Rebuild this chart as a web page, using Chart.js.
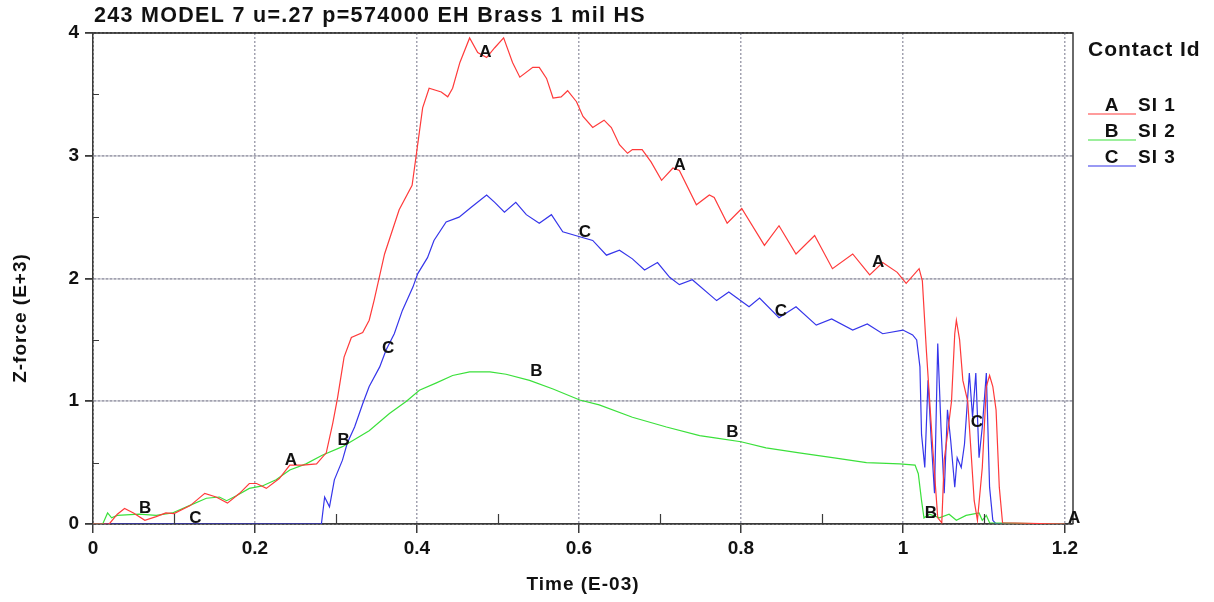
<!DOCTYPE html>
<html>
<head>
<meta charset="utf-8">
<script src="https://cdn.jsdelivr.net/npm/chart.js@4/dist/chart.umd.min.js"></script>
<style>
  body { margin: 0; background: #fff; }
  #wrap { width: 1214px; height: 602px; }
</style>
</head>
<body>
<div id="wrap"><canvas id="forceChart" width="1214" height="602"></canvas></div>
<script>
// --- Data (time in E-03, force in E+3) ---
const chartTitle = '243 MODEL 7 u=.27 p=574000 EH Brass 1 mil HS';
const xAxisTitle = 'Time (E-03)';
const yAxisTitle = 'Z-force (E+3)';
const legendTitle = 'Contact Id';

const xTicks = [0, 0.2, 0.4, 0.6, 0.8, 1, 1.2];
const xTickLabels = ['0', '0.2', '0.4', '0.6', '0.8', '1', '1.2'];
const yTicks = [0, 1, 2, 3, 4];
const yTickLabels = ['0', '1', '2', '3', '4'];
const xMinorTicks = [0.1, 0.3, 0.5, 0.7, 0.9, 1.1];
const yMinorTicks = [0.5, 1.5, 2.5, 3.5];

const seriesNames = ['SI 1', 'SI 2', 'SI 3'];
const seriesLetters = ['A', 'B', 'C'];

// SI 1 (A)
const timeA = [0, 0.02, 0.03, 0.039, 0.05, 0.064, 0.078, 0.09, 0.10, 0.12,
  0.138, 0.152, 0.166, 0.181, 0.193, 0.202, 0.214, 0.23, 0.243, 0.259,
  0.276, 0.288, 0.296, 0.302, 0.31, 0.319, 0.333, 0.341, 0.347, 0.36,
  0.378, 0.394, 0.399, 0.407, 0.415, 0.43, 0.438, 0.444, 0.453, 0.465,
  0.475, 0.486, 0.496, 0.507, 0.518, 0.527, 0.543, 0.551, 0.56, 0.568,
  0.578, 0.586, 0.597, 0.605, 0.617, 0.631, 0.64, 0.65, 0.66, 0.666,
  0.678, 0.689, 0.702, 0.716, 0.724, 0.745, 0.761, 0.767, 0.783, 0.801,
  0.829, 0.847, 0.868, 0.891, 0.913, 0.938, 0.959, 0.975, 0.993, 1.004,
  1.02, 1.024, 1.029, 1.037, 1.043, 1.048, 1.051, 1.055, 1.06, 1.064,
  1.066, 1.07, 1.074, 1.08, 1.084, 1.088, 1.092, 1.098, 1.103, 1.107,
  1.111, 1.115, 1.119, 1.123, 1.2];
const forceA = [0, 0, 0.08, 0.126, 0.09, 0.03, 0.06, 0.09, 0.085, 0.15,
  0.25, 0.22, 0.17, 0.25, 0.33, 0.33, 0.29, 0.37, 0.48, 0.48,
  0.49, 0.58, 0.82, 1.03, 1.36, 1.52, 1.56, 1.66, 1.82, 2.2,
  2.56, 2.76, 3.0, 3.39, 3.55, 3.52, 3.48, 3.55, 3.76, 3.96,
  3.84, 3.8, 3.88, 3.96, 3.76, 3.64, 3.72, 3.72, 3.63, 3.47,
  3.48, 3.53, 3.44, 3.32, 3.23, 3.29, 3.23, 3.09, 3.02, 3.05,
  3.05, 2.95, 2.8, 2.9, 2.88, 2.6, 2.68, 2.66, 2.45, 2.57,
  2.27, 2.43, 2.2, 2.35, 2.08, 2.2, 2.03, 2.13, 2.05, 1.96,
  2.08, 1.98, 1.41, 0.6, 0.05, 0.01, 0.52, 0.73, 1.0, 1.55,
  1.66, 1.5, 1.17, 1.0, 0.6, 0.19, 0.03, 0.46, 1.12, 1.21,
  1.12, 0.93, 0.3, 0.01, 0];

// SI 2 (B)
const timeB = [0, 0.012, 0.018, 0.023, 0.03, 0.057, 0.078, 0.098, 0.119, 0.14,
  0.156, 0.165, 0.177, 0.193, 0.209, 0.226, 0.243, 0.263, 0.283, 0.308,
  0.341, 0.366, 0.387, 0.403, 0.424, 0.444, 0.465, 0.49, 0.51, 0.539,
  0.568, 0.601, 0.625, 0.666, 0.708, 0.749, 0.77, 0.8, 0.831, 0.872,
  0.913, 0.955, 0.996, 1.015, 1.019, 1.023, 1.026, 1.033, 1.045, 1.057,
  1.066, 1.078, 1.094, 1.098, 1.103, 1.107, 1.2];
const forceB = [0, 0, 0.09, 0.05, 0.07, 0.08, 0.07, 0.09, 0.15, 0.21,
  0.22, 0.19, 0.23, 0.29, 0.31, 0.36, 0.44, 0.49, 0.56, 0.63,
  0.76, 0.9, 1.0, 1.09, 1.15, 1.21, 1.24, 1.24, 1.22, 1.17,
  1.1, 1.01, 0.97, 0.87, 0.79, 0.72, 0.70, 0.67, 0.62, 0.58,
  0.54, 0.5, 0.49, 0.48, 0.41, 0.19, 0.05, 0.08, 0.05, 0.08,
  0.03, 0.07, 0.09, 0.03, 0.07, 0.01, 0];

// SI 3 (C)
const timeC = [0, 0.282, 0.286, 0.292, 0.298, 0.308, 0.314, 0.323, 0.333, 0.341,
  0.354, 0.362, 0.372, 0.382, 0.395, 0.401, 0.413, 0.421, 0.436, 0.452,
  0.467, 0.486, 0.496, 0.508, 0.522, 0.535, 0.551, 0.566, 0.58, 0.601,
  0.617, 0.634, 0.65, 0.666, 0.681, 0.697, 0.712, 0.724, 0.74, 0.77,
  0.785, 0.81, 0.823, 0.847, 0.868, 0.893, 0.912, 0.938, 0.956, 0.975,
  1.0, 1.012, 1.017, 1.021, 1.023, 1.027, 1.031, 1.035, 1.039, 1.043,
  1.047, 1.051, 1.055, 1.059, 1.064, 1.067, 1.072, 1.076, 1.082, 1.086,
  1.09, 1.094, 1.098, 1.103, 1.107, 1.111, 1.115, 1.2];
const forceC = [0, 0, 0.22, 0.14, 0.36, 0.52, 0.66, 0.79, 0.98, 1.12,
  1.28, 1.42, 1.55, 1.74, 1.93, 2.04, 2.17, 2.31, 2.46, 2.5,
  2.58, 2.68, 2.62, 2.54, 2.62, 2.52, 2.45, 2.52, 2.38, 2.34,
  2.31, 2.19, 2.23, 2.16, 2.07, 2.13, 2.01, 1.95, 1.99, 1.82,
  1.89, 1.77, 1.84, 1.68, 1.77, 1.62, 1.67, 1.58, 1.63, 1.55,
  1.58, 1.54, 1.5, 1.28, 0.73, 0.46, 1.17, 0.68, 0.25, 1.47,
  0.79, 0.25, 0.93, 0.68, 0.3, 0.54, 0.46, 0.65, 1.23, 0.87,
  1.23, 0.54, 0.79, 1.23, 0.3, 0.03, 0, 0];

// curve id letters sitting on each line
const markTimeA = [0.245, 0.485, 0.725, 0.97, 1.212];
const markForceA = [0.52, 3.84, 2.92, 2.13, 0.05];
const markTimeB = [0.065, 0.31, 0.548, 0.79, 1.035];
const markForceB = [0.13, 0.68, 1.24, 0.75, 0.09];
const markTimeC = [0.127, 0.365, 0.608, 0.85, 1.092];
const markForceC = [0.05, 1.43, 2.38, 1.73, 0.83];

const lineColors = ['#ff3a3a', '#3be03b', '#3535ea'];
const textFont = '"Liberation Sans", Arial, sans-serif';
const axisDark = '#3a3a3a';
const gridGrey = '#a2a2b0';

const toPoints = (times, values) => times.map((t, i) => ({ x: t, y: values[i] }));

const markSets = [
    { times: markTimeA, values: markForceA },
    { times: markTimeB, values: markForceB },
    { times: markTimeC, values: markForceC }
];

// --- decorations the stock plugins don't cover ---
const decorPlugin = {
    id: 'decor',
    afterDatasetsDraw(chart) {
        const { ctx, chartArea: area, scales: { x, y } } = chart;
        ctx.save();
        ctx.letterSpacing = '1px';

        // frame top / right
        ctx.strokeStyle = axisDark;
        ctx.lineWidth = 1.5;
        ctx.beginPath();
        ctx.moveTo(area.left, area.top);
        ctx.lineTo(area.right, area.top);
        ctx.lineTo(area.right, area.bottom);
        ctx.stroke();

        // minor ticks
        ctx.lineWidth = 1.2;
        ctx.beginPath();
        xMinorTicks.forEach(v => {
            const px = Math.round(x.getPixelForValue(v)) + 0.5;
            ctx.moveTo(px, area.bottom);
            ctx.lineTo(px, area.bottom - 10);
        });
        yMinorTicks.forEach(v => {
            const py = Math.round(y.getPixelForValue(v)) + 0.5;
            ctx.moveTo(area.left, py);
            ctx.lineTo(area.left + 6, py);
        });
        ctx.stroke();

        // letters on the curves
        ctx.font = 'bold 17px ' + textFont;
        ctx.fillStyle = '#111';
        ctx.textAlign = 'center';
        ctx.textBaseline = 'middle';
        markSets.forEach((set, si) => {
            set.times.forEach((t, i) => {
                ctx.fillText(seriesLetters[si], x.getPixelForValue(t), y.getPixelForValue(set.values[i]));
            });
        });

        // title
        ctx.textAlign = 'left';
        ctx.letterSpacing = '1.3px';
        ctx.font = 'bold 21.5px ' + textFont;
        ctx.fillText(chartTitle, area.left + 1, 16);

        // axis titles
        ctx.letterSpacing = '1px';
        ctx.textAlign = 'center';
        ctx.font = 'bold 19px ' + textFont;
        ctx.fillText(xAxisTitle, (area.left + area.right) / 2, 585);
        ctx.save();
        ctx.translate(21, 318);
        ctx.rotate(-Math.PI / 2);
        ctx.fillText(yAxisTitle, 0, 0);
        ctx.restore();

        // legend
        const lx = area.right + 15;
        ctx.textAlign = 'left';
        ctx.font = 'bold 21px ' + textFont;
        ctx.fillText(legendTitle, lx, 50);
        ctx.font = 'bold 19px ' + textFont;
        seriesNames.forEach((name, i) => {
            const ly = 106 + i * 26;
            ctx.strokeStyle = lineColors[i];
            ctx.lineWidth = 1.2;
            ctx.beginPath();
            ctx.moveTo(lx, ly + 8);
            ctx.lineTo(lx + 48, ly + 8);
            ctx.stroke();
            ctx.fillStyle = '#111';
            ctx.textAlign = 'center';
            ctx.fillText(seriesLetters[i], lx + 24, ly);
            ctx.textAlign = 'left';
            ctx.fillText(name, lx + 50, ly);
        });
        ctx.restore();
    }
};

const tickFont = { family: textFont, size: 19, weight: 'bold' };

new Chart(document.getElementById('forceChart'), {
    type: 'line',
    data: {
        datasets: [
            { label: seriesNames[0], data: toPoints(timeA, forceA), borderColor: lineColors[0] },
            { label: seriesNames[1], data: toPoints(timeB, forceB), borderColor: lineColors[1] },
            { label: seriesNames[2], data: toPoints(timeC, forceC), borderColor: lineColors[2] }
        ].map(ds => Object.assign(ds, { borderWidth: 1.2, pointRadius: 0, tension: 0, fill: false }))
    },
    options: {
        responsive: false,
        animation: false,
        layout: { padding: { top: 33, right: 141, left: 0, bottom: 0 } },
        plugins: { legend: { display: false }, tooltip: { enabled: false }, title: { display: false } },
        scales: {
            x: {
                type: 'linear',
                min: 0,
                max: 1.21,
                afterBuildTicks: s => { s.ticks = xTicks.map(v => ({ value: v })); },
                afterFit: s => { s.height = 78; },
                ticks: {
                    color: '#111',
                    font: tickFont,
                    padding: 4,
                    maxRotation: 0,
                    callback: (v) => xTickLabels[xTicks.indexOf(v)]
                },
                grid: {
                    color: c => (c.tick && c.tick.value === 0) ? axisDark : gridGrey,
                    lineWidth: 1.5,
                    tickColor: axisDark,
                    tickLength: 9
                },
                border: { display: true, color: axisDark, width: 1.5, dash: [2, 2] }
            },
            y: {
                min: 0,
                max: 4,
                afterBuildTicks: s => { s.ticks = yTicks.map(v => ({ value: v })); },
                afterFit: s => { s.width = 93; },
                ticks: {
                    color: '#111',
                    font: tickFont,
                    padding: 6,
                    callback: (v) => yTickLabels[yTicks.indexOf(v)]
                },
                grid: {
                    color: c => (c.tick && (c.tick.value === 0 || c.tick.value === 4)) ? axisDark : gridGrey,
                    lineWidth: 1.8,
                    tickColor: axisDark,
                    tickLength: 8
                },
                border: { display: true, color: axisDark, width: 1.5, dash: [3, 1] }
            }
        }
    },
    plugins: [decorPlugin]
});
</script>
</body>
</html>
